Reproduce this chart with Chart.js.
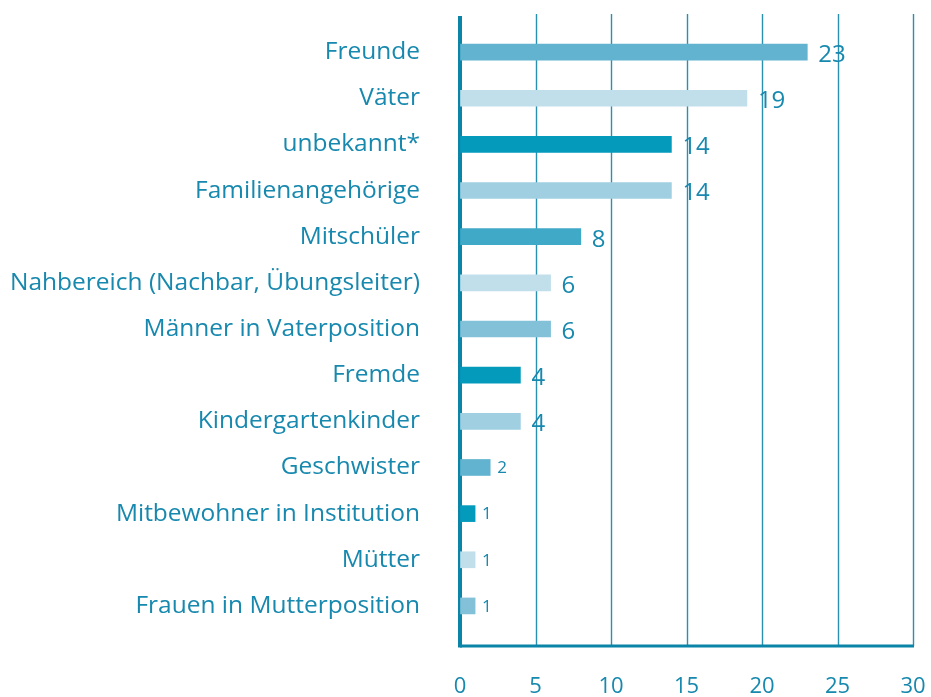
<!DOCTYPE html>
<html>
<head>
<meta charset="utf-8">
<script src="https://cdn.jsdelivr.net/npm/chart.js@4/dist/chart.umd.min.js"></script>
<style>
  html, body { margin: 0; padding: 0; background: #fff; }
  #wrap { width: 931px; height: 697px; }
</style>
</head>
<body>
<div id="wrap"><canvas id="chart"></canvas></div>
<script>
// Values.
var categories = [
  "Freunde", "Väter", "unbekannt*", "Familienangehörige", "Mitschüler",
  "Nahbereich (Nachbar, Übungsleiter)", "Männer in Vaterposition", "Fremde",
  "Kindergartenkinder", "Geschwister", "Mitbewohner in Institution", "Mütter",
  "Frauen in Mutterposition"
];
var counts = [23, 19, 14, 14, 8, 6, 6, 4, 4, 2, 1, 1, 1];
var barColors = [
  "#62b3d0", "#c0dfeb", "#049abc", "#a0cfe2", "#40a9c8", "#c0dfeb", "#83c1d9",
  "#049abc", "#a0cfe2", "#62b3d0", "#049abc", "#c0dfeb", "#83c1d9"
];
var xTicks = [0, 5, 10, 15, 20, 25, 30];

var TEXT = "#1788ae";
var LINE = "#0a84a7";
var FONT = "'Open Sans', sans-serif";

// Grid lines and the two axis lines run past the bar area, as in the original.
var frame = {
  id: "frame",
  beforeDatasetsDraw: function (chart) {
    var ctx = chart.ctx, x = chart.scales.x, a = chart.chartArea;
    var top = a.top - 15, bottom = a.bottom + 17;
    ctx.save();
    ctx.strokeStyle = "#2a90b1";
    ctx.lineWidth = 1.4;
    xTicks.slice(1).forEach(function (t) {
      var px = Math.round(x.getPixelForValue(t)) + 0.5;
      ctx.beginPath();
      ctx.moveTo(px, top);
      ctx.lineTo(px, bottom);
      ctx.stroke();
    });
    ctx.strokeStyle = LINE;
    ctx.lineWidth = 3;
    ctx.beginPath();
    ctx.moveTo(x.getPixelForValue(0), bottom);
    ctx.lineTo(x.getPixelForValue(30) + 1, bottom);
    ctx.stroke();
    ctx.lineWidth = 4;
    ctx.beginPath();
    ctx.moveTo(x.getPixelForValue(0), top + 2);
    ctx.lineTo(x.getPixelForValue(0), bottom + 1.5);
    ctx.stroke();
    ctx.restore();
  },
};

// Numbers at the bar ends.
var valueLabels = {
  id: "valueLabels",
  afterDatasetsDraw: function (chart) {
    var ctx = chart.ctx;
    var meta = chart.getDatasetMeta(0);
    ctx.save();
    ctx.fillStyle = TEXT;
    ctx.textBaseline = "middle";
    ctx.textAlign = "left";
    meta.data.forEach(function (bar, i) {
      var v = counts[i];
      var small = v < 3;
      ctx.font = (small ? "17px " : "24px ") + FONT;
      ctx.fillText(String(v), bar.x + (small ? 7 : 11), bar.y + (small ? 1 : 3));
    });
    ctx.restore();
  },
};

new Chart(document.getElementById("chart"), {
  type: "bar",
  data: {
    labels: categories,
    datasets: [{
      data: counts,
      backgroundColor: barColors,
      borderWidth: 0,
      barThickness: 16,
    }],
  },
  options: {
    indexAxis: "y",
    responsive: true,
    maintainAspectRatio: false,
    animation: false,
    layout: { padding: { top: 29, right: 18, left: 0, bottom: 0 } },
    plugins: { legend: { display: false }, tooltip: { enabled: false } },
    scales: {
      x: {
        min: 0,
        max: 30,
        afterBuildTicks: function (s) {
          s.ticks = xTicks.map(function (v) { return { value: v }; });
        },
        afterFit: function (s) { s.height = 68; },
        // invisible tick marks push the labels down without widening the padding
        grid: { display: true, drawOnChartArea: false, drawTicks: true, tickLength: 45, tickColor: "rgba(0,0,0,0)" },
        border: { display: false },
        ticks: {
          color: TEXT,
          padding: 0,
          font: { family: FONT, size: 22 },
          maxRotation: 0,
        },
      },
      y: {
        afterFit: function (s) { s.width = 460; },
        grid: { display: true, drawOnChartArea: false, drawTicks: true, tickLength: 40, tickColor: "rgba(0,0,0,0)" },
        border: { display: false },
        ticks: {
          color: TEXT,
          padding: 0,
          font: { family: FONT, size: 24.5 },
        },
      },
    },
  },
  plugins: [frame, valueLabels],
});
</script>
</body>
</html>
